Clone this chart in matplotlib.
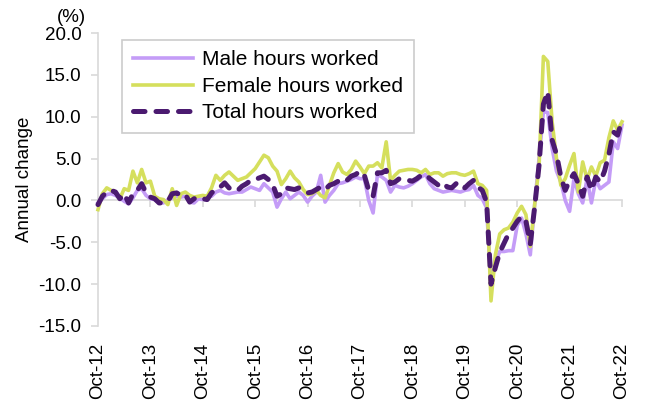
import matplotlib
matplotlib.use('Agg')
import matplotlib.pyplot as plt
import numpy as np

plt.rcParams['font.family'] = ['Liberation Sans', 'DejaVu Sans']

# monthly annual change (%), Oct-12 .. Oct-22
male = [-0.3, 0.2, 0.7, 0.8, 0.6, 0.3, -0.1, -0.4, 0.3, 1.2, 1.4, 0.6,
        0.2, 0.1, -0.3, -0.3, 0.1, 0.3, 0.5, 0.4, 0.5, -0.2, -0.3, 0.2,
        0.1, 0.4, 0.5, 1.0, 1.2, 0.9, 0.8, 0.9, 1.0, 1.0, 1.3, 1.6,
        1.4, 1.2, 2.0, 1.5, 1.0, -0.8, 0.2, 1.0, 0.2, 0.6, 1.0, 0.6,
        -0.2, 0.5, 1.0, 3.0, -0.2, 0.6, 1.2, 2.0, 2.1, 2.3, 2.5, 2.8,
        2.6, 2.6, 0.0, -1.5, 3.1, 2.8, 2.4, 1.0, 1.8, 1.6, 1.5, 1.7,
        2.0, 2.4, 2.8, 3.1, 2.0, 1.4, 1.2, 1.0, 1.1, 1.2, 1.1, 1.0,
        1.2, 1.3, 1.8, 0.6, 0.2, -0.9, -10.0, -7.5, -6.1, -6.1, -6.0, -6.0,
        -3.0, -2.1, -4.0, -6.5, -0.5, 5.0, 10.6, 10.5, 6.2, 3.5, 2.2, 0.0,
        -1.3, 2.6, 0.8, -0.3, 2.6, -0.3, 2.5, 1.4, 1.8, 2.2, 7.0, 6.2,
        9.0]
female = [-1.1, 0.8, 1.5, 1.2, 1.0, 0.2, 1.4, 1.2, 3.5, 2.1, 3.7, 2.1,
          2.3, 0.5, 0.2, 0.1, -0.5, 1.4, -0.6, 0.8, 1.0, 0.6, 0.4, 0.5,
          0.6, 0.5, 1.5, 3.0, 2.4, 3.0, 3.4, 2.9, 2.4, 2.6, 2.8, 3.3,
          3.8, 4.6, 5.4, 5.1, 4.1, 3.5, 1.9, 2.6, 3.5, 2.7, 2.2, 1.3,
          0.7, 0.8, 1.2, 0.6, 0.3, 1.8, 3.3, 4.4, 3.4, 3.1, 3.7, 4.7,
          4.0, 3.2, 4.1, 4.1, 4.5, 3.9, 7.0, 2.4, 3.0, 3.5, 3.6, 3.7,
          3.7, 3.6, 3.3, 3.7, 3.1, 3.3, 3.3, 2.9, 3.2, 3.3, 3.3, 3.1,
          3.0, 3.2, 3.5, 2.0, 1.8, 1.2, -12.0, -6.5, -4.0, -3.5, -3.3, -2.6,
          -1.5, -0.7, -1.7, -5.5, -0.5, 4.0, 17.2, 16.6, 9.4, 5.0, 1.8, 2.6,
          4.2, 5.6, 1.0, 4.6, 2.5, 4.0, 2.9, 4.5, 4.8, 7.5, 9.5, 8.4,
          9.4]
total = [-0.5, 0.5, 1.0, 1.2, 1.0, 0.2, 0.8, -0.3, 0.8, 1.2, 2.0, 0.9,
         0.4, 0.2, -0.3, -0.3, -0.1, 0.8, 0.9, 0.6, 0.7, -0.2, 0.2, 0.4,
         0.2, 0.1, 0.9, 1.3, 1.6, 2.1, 1.5, 1.2, 1.2, 1.7, 2.0, 2.4,
         2.5, 2.7, 2.9, 2.5, 1.9, 0.5, 0.8, 1.5, 1.4, 1.3, 1.5, 1.2,
         0.9, 1.0, 1.3, 1.6, 1.3, 1.8, 2.0, 2.3, 2.6, 2.4, 2.9, 3.1,
         3.5, 3.0, 1.2, 0.5, 3.3, 3.3, 3.6, 2.0, 2.2, 2.6, 2.5, 2.4,
         2.3, 2.6, 3.0, 3.1, 2.6, 2.2, 1.8, 2.1, 1.6, 1.5, 2.0, 2.1,
         1.5, 2.0, 2.4, 1.6, 1.2, -0.2, -10.0, -8.0, -6.2, -5.1, -4.0, -3.3,
         -2.5, -1.9, -2.5, -5.2, -0.8, 4.2, 11.5, 13.0, 7.2, 5.5, 2.8, 1.2,
         2.4, 3.2, 2.0, 0.5, 2.8, 1.2, 2.8, 2.2, 3.5, 5.5, 8.2, 7.8,
         9.6]
year_labels = ['Oct-12', 'Oct-13', 'Oct-14', 'Oct-15', 'Oct-16', 'Oct-17',
               'Oct-18', 'Oct-19', 'Oct-20', 'Oct-21', 'Oct-22']

months = np.arange(len(total))
grey = '#d9d9d9'

fig = plt.figure(figsize=(6.45, 4.05), dpi=100)
ax = fig.add_axes([98 / 645, 1 - 326 / 405, 524 / 645, 293 / 405])

ax.plot(months, male, color='#c49cf7', lw=2.6, label='Male hours worked',
        clip_on=False, zorder=3)
ax.plot(months, female, color='#d5df5d', lw=2.6, label='Female hours worked',
        clip_on=False, zorder=4)
ax.plot(months, total, color='#4b1a70', lw=3.6, dashes=(2.3, 2.2),
        dash_capstyle='round', label='Total hours worked', clip_on=False, zorder=5)

ax.set_xlim(0, 120)
ax.set_ylim(-15, 20)
ax.set_yticks(np.arange(-15, 21, 5))
ax.set_yticklabels(['%.1f' % v for v in np.arange(-15, 21, 5)])
ax.tick_params(axis='y', colors=grey, labelcolor='black', labelsize=13.5,
               length=5, width=1.2, pad=7)
ax.set_xticks(np.arange(0, 121, 12))
ax.set_xticklabels(year_labels, rotation=90)
ax.tick_params(axis='x', length=0, labelsize=13.5, pad=12)

for s in ['top', 'right', 'bottom']:
    ax.spines[s].set_visible(False)
ax.spines['left'].set_color(grey)
ax.spines['left'].set_linewidth(1.2)

# horizontal axis line through zero
zax = ax.secondary_xaxis(15 / 35)
zax.set_xticks(np.arange(0, 121, 12))
zax.set_xticklabels([])
zax.tick_params(colors=grey, length=5, width=1.2, direction='out')
zax.spines['bottom'].set_color(grey)
zax.spines['bottom'].set_linewidth(1.2)

ax.set_ylabel('Annual change', fontsize=13.5, labelpad=4)
ax.text(-0.05, 1.025, '(%)', transform=ax.transAxes, fontsize=13.5,
        ha='center', va='bottom')

leg = ax.legend(loc='upper left', bbox_to_anchor=(0.046, 0.976), fontsize=15,
                frameon=True, fancybox=False, edgecolor='#bfbfbf',
                borderaxespad=0, handlelength=2.9, handletextpad=0.45,
                labelspacing=0.36, borderpad=0.5)
leg.get_frame().set_linewidth(1.2)

fig.savefig('out.png', dpi=100, facecolor='w')
